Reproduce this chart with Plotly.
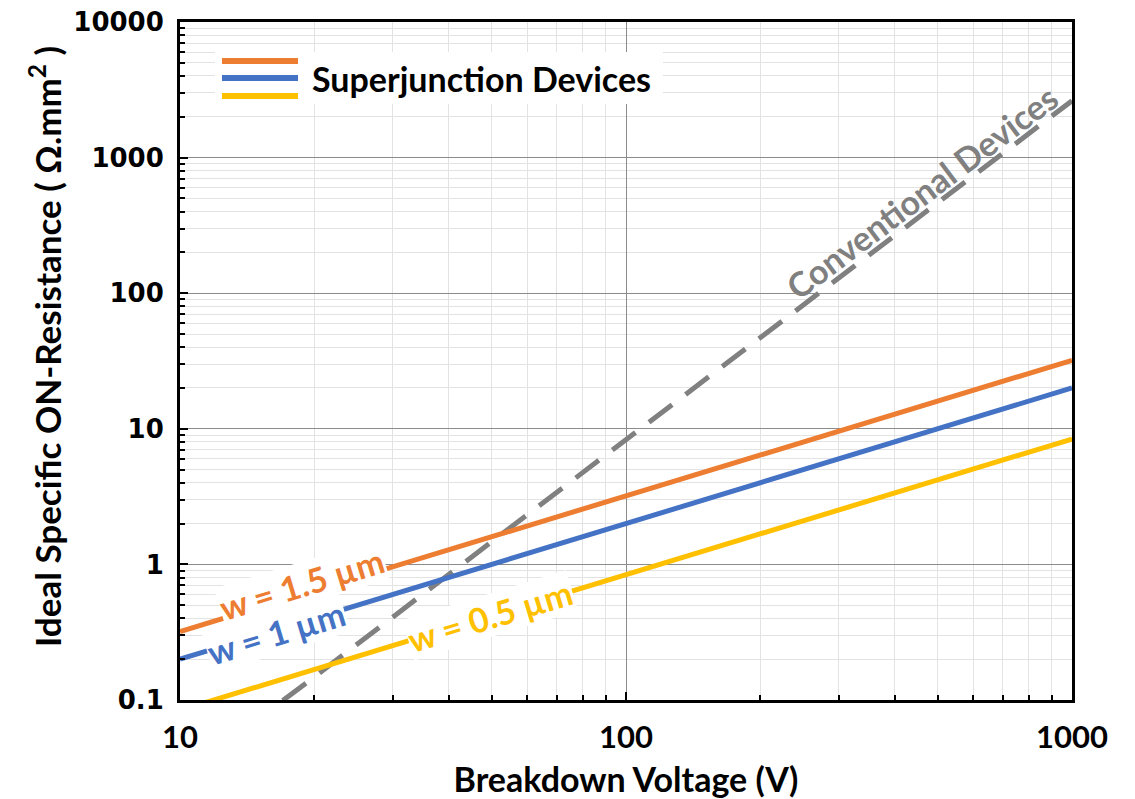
import plotly.graph_objects as go
import math

# ---- data ----
voltage_sj = [10, 20, 50, 100, 200, 500, 1000]
ron_w15 = [0.32, 0.64, 1.6, 3.2, 6.4, 16, 32]
ron_w10 = [0.2, 0.4, 1.0, 2.0, 4.0, 10, 20]
ron_w05 = [0.084, 0.168, 0.42, 0.84, 1.68, 4.2, 8.4]

voltage_conv = [17, 20, 50, 100, 200, 500, 1000]
ron_conv = [0.099, 0.148, 1.47, 8.3, 47, 464, 2625]

x_tick_vals = [10, 100, 1000]
x_tick_text = ["10", "100", "1000"]
y_tick_vals = [0.1, 1, 10, 100, 1000, 10000]
y_tick_text = ["0.1", "1", "10", "100", "1000", "10000"]

ORANGE = "#ED7D31"
BLUE = "#4472C4"
YELLOW = "#FFC000"
GRAY = "#808080"

fig = go.Figure()
fig.add_trace(go.Scatter(x=voltage_conv, y=ron_conv, mode="lines",
                         line=dict(color=GRAY, width=5, dash="29px,17px"), showlegend=False))
fig.add_trace(go.Scatter(x=voltage_sj, y=ron_w05, mode="lines",
                         line=dict(color=YELLOW, width=5), showlegend=False))
fig.add_trace(go.Scatter(x=voltage_sj, y=ron_w10, mode="lines",
                         line=dict(color=BLUE, width=5), showlegend=False))
fig.add_trace(go.Scatter(x=voltage_sj, y=ron_w15, mode="lines",
                         line=dict(color=ORANGE, width=5), showlegend=False))

def interp_loglog(xs, ys, x):
    lx = math.log10(x)
    for i in range(len(xs) - 1):
        a, b = math.log10(xs[i]), math.log10(xs[i + 1])
        if a <= lx <= b:
            t = (lx - a) / (b - a)
            return 10 ** (math.log10(ys[i]) + t * (math.log10(ys[i + 1]) - math.log10(ys[i])))
    return ys[-1]

label_font = "Lato, 'Open Sans', sans-serif"

def curve_label(text, xs, ys, xpos, color, angle, size, yshift=0, xshift=0, bg="white"):
    fig.add_annotation(x=math.log10(xpos), y=math.log10(interp_loglog(xs, ys, xpos)),
                       xref="x", yref="y", text=f"<b>{text}</b>", showarrow=False,
                       textangle=angle, yshift=yshift, xshift=xshift,
                       font=dict(family=label_font, size=size, color=color),
                       bgcolor=bg, borderpad=0)

curve_label("w = 1.5 µm", voltage_sj, ron_w15, 18.6, ORANGE, -17, 34, yshift=11, xshift=2)
curve_label("w = 1 µm", voltage_sj, ron_w10, 16.4, BLUE, -17, 34, yshift=-2)
curve_label("w = 0.5 µm", voltage_sj, ron_w05, 49.5, YELLOW, -17, 34, yshift=1)
curve_label("Conventional Devices", voltage_conv, ron_conv, 460, GRAY, -37, 34,
            yshift=24, bg="rgba(0,0,0,0)")

# legend-like block
fig.add_shape(type="rect", xref="paper", yref="paper",
              x0=(215 - 180) / 892, x1=(663 - 180) / 892,
              y0=(700 - 104) / 678, y1=(700 - 52) / 678,
              fillcolor="white", line=dict(width=0), layer="above")
for ypx, col in [(61, ORANGE), (78, BLUE), (96, YELLOW)]:
    fig.add_shape(type="line", xref="paper", yref="paper",
                  x0=(222 - 180) / 892, x1=(298 - 180) / 892,
                  y0=(700 - ypx) / 678, y1=(700 - ypx) / 678,
                  line=dict(color=col, width=6), layer="above")
fig.add_annotation(xref="paper", yref="paper", x=(310 - 180) / 892, y=(700 - 78) / 678,
                   xanchor="left", yanchor="middle", showarrow=False,
                   text="<b>Superjunction Devices</b>",
                   font=dict(family=label_font, size=34, color="black"))

# y axis title placed as an annotation for exact positioning
fig.add_annotation(xref="paper", yref="paper", x=(45 - 180) / 892, y=(700 - 347) / 678,
                   xanchor="center", yanchor="middle", showarrow=False, textangle=-90,
                   text="<b>Ideal Specific ON-Resistance ( Ω.mm<sup>2</sup> )</b>",
                   font=dict(family=label_font, size=35, color="black"))

axis_common = dict(
    type="log", showline=True, linecolor="black", linewidth=3, mirror=True,
    showgrid=True, gridcolor="#8c8c8c", gridwidth=1,
    ticks="inside", ticklen=8, tickwidth=2, tickcolor="black",
    minor=dict(showgrid=True, gridcolor="#e3e3e3", gridwidth=1,
               ticks="inside", ticklen=5, tickwidth=2, tickcolor="black", dtick="D1"),
    zeroline=False, automargin=False,
)

fig.update_xaxes(**axis_common, range=[1, 3], tickvals=x_tick_vals, ticktext=x_tick_text,
                 ticklabelstandoff=8,
                 tickfont=dict(family=label_font, size=31, color="black", weight="bold"),
                 title=dict(text="<b>Breakdown Voltage (V)</b>", standoff=16,
                            font=dict(family=label_font, size=34, color="black")))
fig.update_yaxes(**axis_common, range=[-1, 4], tickvals=y_tick_vals, ticktext=y_tick_text,
                 ticklabelstandoff=8,
                 tickfont=dict(family="DejaVu Sans", size=26, color="black", weight="bold"))

fig.update_layout(
    width=1135, height=799,
    margin=dict(l=180, r=63, t=22, b=99),
    paper_bgcolor="white", plot_bgcolor="white",
    showlegend=False,
)

fig.write_html("out.html")
